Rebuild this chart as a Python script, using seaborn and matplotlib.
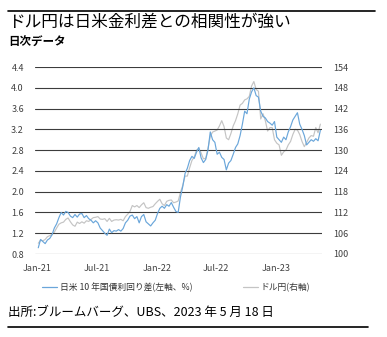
import numpy as np
import pandas as pd
import matplotlib
matplotlib.use("Agg")
import matplotlib.pyplot as plt
import matplotlib.dates as mdates
from matplotlib.lines import Line2D
import seaborn as sns

# ---------------- data (weekly readings, Mondays) ----------------
dates = pd.date_range("2021-01-04", "2023-05-15", freq="W-MON")

spread_2021 = [0.92, 1.08, 1.04, 1.00,
               1.07, 1.10, 1.17, 1.30,
               1.38, 1.50, 1.60, 1.55, 1.62,
               1.60, 1.53, 1.50, 1.56,
               1.51, 1.57, 1.58, 1.50, 1.54,
               1.48, 1.45, 1.40, 1.44,
               1.40, 1.30, 1.25, 1.20,
               1.16, 1.28, 1.21, 1.25, 1.24,
               1.27, 1.24, 1.29, 1.40,
               1.45, 1.53, 1.55, 1.48,
               1.52, 1.40, 1.52, 1.56, 1.42,
               1.38, 1.34, 1.40, 1.45]
spread_2022 = [1.58, 1.68, 1.72, 1.68, 1.75,
               1.72, 1.79, 1.70, 1.62,
               1.60, 1.90, 2.10, 2.35,
               2.45, 2.60, 2.68, 2.64,
               2.76, 2.85, 2.65, 2.56, 2.62,
               2.80, 3.15, 3.00, 2.95,
               2.72, 2.76, 2.66, 2.62,
               2.42, 2.55, 2.60, 2.72, 2.85,
               2.92, 3.08, 3.30, 3.55,
               3.50, 3.78, 3.92, 4.00, 3.85,
               3.82, 3.55, 3.45, 3.42,
               3.35, 3.32, 3.28, 3.35]
spread_2023 = [3.05, 3.00, 2.95, 3.05, 3.00,
               3.15, 3.25, 3.38, 3.45,
               3.52, 3.30, 3.20, 3.08,
               2.90, 2.95, 3.00, 2.97,
               3.02, 2.98, 3.18]

usdjpy_2021 = [103.1, 104.0, 103.8, 104.2,
               105.0, 105.3, 105.6, 106.3,
               107.5, 108.6, 109.0, 109.2, 110.0,
               110.4, 109.3, 108.4, 108.0,
               109.2, 108.8, 109.3, 108.9, 109.6,
               109.4, 110.0, 110.5, 110.6,
               110.8, 110.1, 110.0, 110.2,
               109.4, 110.3, 109.4, 109.8, 109.9,
               109.8, 110.0, 109.6, 110.8,
               111.5, 112.3, 114.0, 113.6,
               114.0, 113.4, 114.2, 114.8, 113.4,
               113.2, 113.5, 113.7, 114.5]
usdjpy_2022 = [115.2, 115.8, 114.5, 114.0, 115.2,
               115.5, 115.6, 114.8, 115.0,
               115.3, 117.8, 119.8, 122.5,
               122.5, 124.9, 127.0, 128.0,
               130.0, 130.5, 129.2, 127.5, 127.6,
               130.5, 134.0, 135.2, 135.5,
               135.8, 137.0, 138.5, 136.8,
               133.5, 133.0, 134.8, 137.0, 138.5,
               140.5, 143.0, 143.5, 144.5,
               144.8, 145.5, 148.5, 149.8, 147.5,
               147.0, 139.0, 140.5, 138.5,
               135.5, 136.5, 136.5, 133.0]
usdjpy_2023 = [132.0, 131.5, 128.5, 129.5, 130.0,
               131.5, 132.5, 134.5, 136.0,
               135.8, 134.5, 132.5, 131.0,
               132.2, 133.5, 134.2, 134.0,
               136.5, 135.0, 137.5]

spread = spread_2021 + spread_2022 + spread_2023
usdjpy = usdjpy_2021 + usdjpy_2022 + usdjpy_2023

left_ticks = [0.8, 1.2, 1.6, 2.0, 2.4, 2.8, 3.2, 3.6, 4.0, 4.4]
right_ticks = [100, 106, 112, 118, 124, 130, 136, 142, 148, 154]

title = "ドル円は日米金利差との相関性が強い"
subtitle = "日次データ"
label_spread = "日米 10 年国債利回り差(左軸、%)"
label_fx = "ドル円(右軸)"
source = "出所:ブルームバーグ、UBS、2023 年 5 月 18 日"

df = pd.DataFrame({"date": dates, "spread": spread, "usdjpy": usdjpy})

# ---------------- style ----------------
sns.set_style("white")
plt.rcParams["font.family"] = ["Noto Sans CJK JP", "DejaVu Sans"]

BLUE = "#6AA6DA"
GREY = "#C4C4C4"
GRID = "#3c3c3c"
TXT = "#404040"

fig = plt.figure(figsize=(3.87, 3.37), dpi=100)
ax = fig.add_axes([35 / 387, 1 - 254 / 337, (322 - 35) / 387, (254 - 67) / 337])
ax2 = ax.twinx()

sns.lineplot(data=df, x="date", y="usdjpy", ax=ax2, color=GREY, lw=0.85)
sns.lineplot(data=df, x="date", y="spread", ax=ax, color=BLUE, lw=0.85)

ax.set_zorder(ax2.get_zorder() + 1)
ax.patch.set_visible(False)

ax.set_ylim(0.8, 4.4)
ax2.set_ylim(100, 154)
ax.set_yticks(left_ticks)
ax.set_yticklabels([f"{v:.1f}" for v in left_ticks])
ax2.set_yticks(right_ticks)
ax2.set_yticklabels([str(v) for v in right_ticks])

ax.set_xlim(pd.Timestamp("2020-12-25"), pd.Timestamp("2023-05-20"))
ax.xaxis.set_major_locator(mdates.MonthLocator(bymonth=[1, 7]))
ax.xaxis.set_major_formatter(mdates.DateFormatter("%b-%y"))

ax.grid(axis="y", color=GRID, lw=0.8)
ax.grid(axis="x", visible=False)
ax2.grid(False)
for a in (ax, ax2):
    for s in a.spines.values():
        s.set_visible(False)
    a.set_xlabel("")
    a.set_ylabel("")
    a.tick_params(length=0, labelsize=6.5, colors=TXT)
ax.tick_params(axis="y", pad=8)
ax2.tick_params(axis="y", pad=8)
ax.tick_params(axis="x", pad=7)

# legend
handles = [Line2D([], [], color=BLUE, lw=0.9), Line2D([], [], color=GREY, lw=0.9)]
fig.legend(handles, [label_spread, label_fx], loc="center left",
           bbox_to_anchor=(38 / 387, 1 - 287 / 337), ncol=2, frameon=False,
           fontsize=6.3, handlelength=1.7, handletextpad=0.3,
           columnspacing=5.8, borderpad=0, labelcolor="#333333")

# titles / rules
fig.add_artist(Line2D([8 / 387, 375 / 387], [1 - 11 / 337, 1 - 11 / 337],
                      color="black", lw=1.2))
fig.text(8 / 387, 1 - 22 / 337, title, fontsize=12, color="black", va="center")
fig.text(8 / 387, 1 - 42 / 337, subtitle, fontsize=8.3, fontweight="bold",
         color="black", va="center")
fig.text(8 / 387, 1 - 312 / 337, source, fontsize=9, color="black",
         va="center", fontweight="normal")
fig.add_artist(Line2D([8 / 387, 368 / 387], [1 - 327 / 337, 1 - 327 / 337],
                      color="black", lw=1.2))

fig.savefig("out.png", dpi=100)
